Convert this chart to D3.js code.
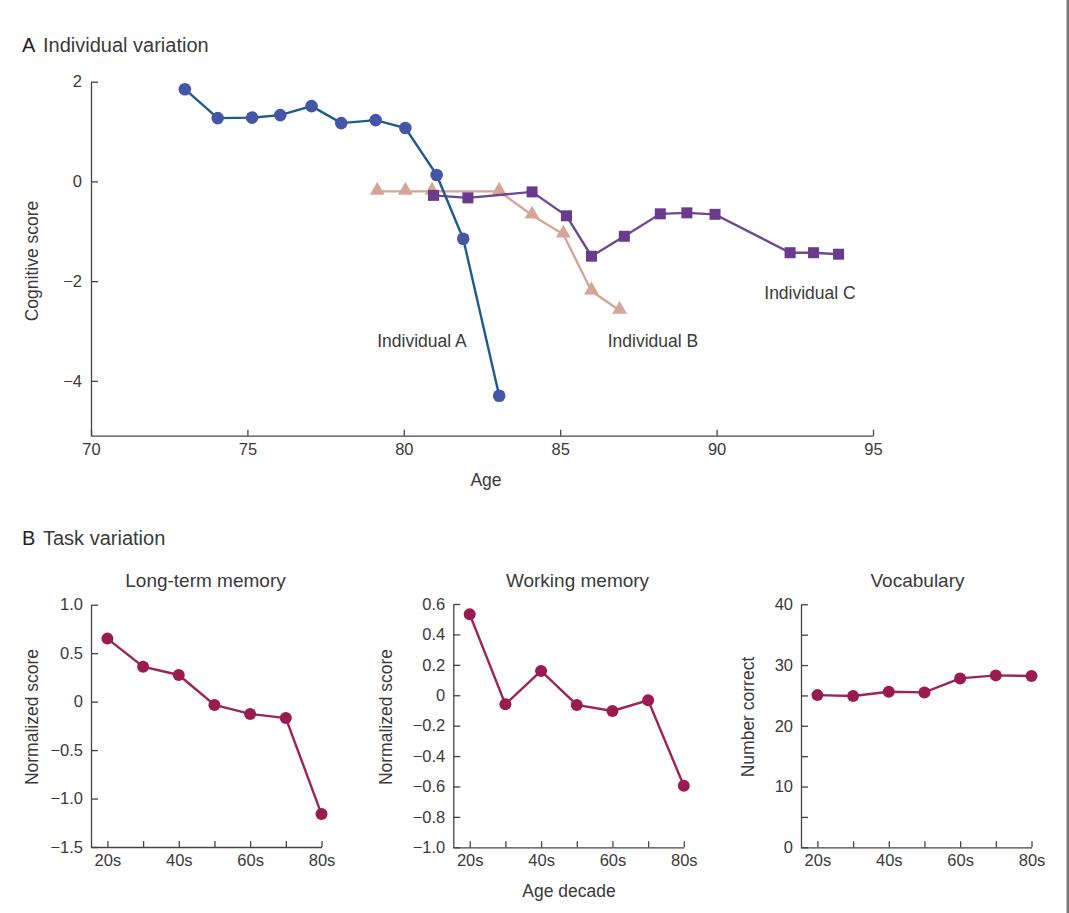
<!DOCTYPE html>
<html>
<head>
<meta charset="utf-8">
<script src="https://cdn.jsdelivr.net/npm/d3@7"></script>
<style>
  body { margin: 0; background: #fff; }
  svg { display: block; font-family: "Liberation Sans", Arial, sans-serif; }
  .axis path, .axis line { stroke: #444; stroke-width: 1.3; }
  .lbl { fill: #3a3a3a; font-size: 17.5px; }
  .ttl { fill: #3a3a3a; font-size: 20px; }
</style>
</head>
<body>
<svg id="fig" width="1069" height="913"></svg>
<script>
// panel A: individual trajectories (age, cognitive score)
var ageA = [73, 74.05, 75.15, 76.05, 77.05, 78, 79.1, 80.05, 81.05, 81.9, 83.05];
var scoreA = [1.85, 1.27, 1.28, 1.33, 1.51, 1.17, 1.23, 1.07, 0.13, -1.15, -4.3];
var ageB = [79.15, 80.05, 80.9, 83.05, 84.1, 85.1, 86.0, 86.9];
var scoreB = [-0.2, -0.2, -0.2, -0.2, -0.68, -1.06, -2.2, -2.59];
var ageC = [80.95, 82.05, 84.1, 85.2, 86.0, 87.05, 88.2, 89.05, 89.95, 92.35, 93.1, 93.9];
var scoreC = [-0.28, -0.33, -0.21, -0.69, -1.5, -1.1, -0.65, -0.63, -0.66, -1.43, -1.43, -1.46];
var ageTicks = [70, 75, 80, 85, 90, 95];
var scoreTicks = [2, 0, -2, -4];

// panel B: task variation by age decade
var decades = [20, 30, 40, 50, 60, 70, 80];
var decadeLabels = ["20s", "", "40s", "", "60s", "", "80s"];
var longTerm = [0.65, 0.36, 0.275, -0.035, -0.127, -0.17, -1.16];
var working = [0.533, -0.06, 0.16, -0.064, -0.103, -0.033, -0.595];
var vocab = [25.05, 24.9, 25.6, 25.5, 27.8, 28.3, 28.2];
var ltmTicks = [1.0, 0.5, 0, -0.5, -1.0, -1.5];
var wmTicks = [0.6, 0.4, 0.2, 0, -0.2, -0.4, -0.6, -0.8, -1.0];
var vocabTicks = [0, 5, 10, 15, 20, 25, 30, 35, 40];

var svg = d3.select("#fig");

// thin frame line at the right edge
svg.append("rect").attr("x", 1066.5).attr("y", 0).attr("width", 2.5).attr("height", 913).attr("fill", "#7a7a7a");

function minus(v) { return String(v).replace("-", "\u2212"); }

function styleTicks(g) {
  g.selectAll("text").attr("font-family", null).attr("font-size", null)
    .style("font-size", "16.5px").style("fill", "#3a3a3a");
}

// ---------- panel A ----------
svg.append("text").attr("x", 22).attr("y", 52).attr("class", "ttl").style("fill", "#222").text("A");
svg.append("text").attr("x", 43).attr("y", 52).attr("class", "ttl").text("Individual variation");

var x = d3.scaleLinear().domain([70, 95]).range([91, 873]);
var y = d3.scaleLinear().domain([-5.1, 2]).range([435.7, 81.7]);

svg.append("g").attr("class", "axis").attr("transform", "translate(0,435.7)")
  .call(d3.axisBottom(x).tickValues(ageTicks).tickSizeInner(-6).tickSizeOuter(0).tickPadding(8))
  .call(styleTicks);
svg.append("g").attr("class", "axis").attr("transform", "translate(91,0)")
  .call(d3.axisLeft(y).tickValues(scoreTicks).tickSizeInner(-7).tickSizeOuter(0).tickPadding(9).tickFormat(minus))
  .call(styleTicks);

var line = d3.line().x(d => x(d[0])).y(d => y(d[1]));

var serA = d3.zip(ageA, scoreA), serB = d3.zip(ageB, scoreB), serC = d3.zip(ageC, scoreC);

// Individual B (pink triangles)
svg.append("path").datum(serB).attr("d", line).attr("fill", "none")
  .attr("stroke", "#d6a597").attr("stroke-width", 2.4);
svg.selectAll(".tri").data(serB).enter().append("path").attr("class", "tri")
  .attr("d", d3.symbol().type(d3.symbolTriangle).size(95))
  .attr("transform", d => "translate(" + x(d[0]) + "," + (y(d[1]) - 1) + ")")
  .attr("fill", "#d6a597");

// Individual C (purple squares)
svg.append("path").datum(serC).attr("d", line).attr("fill", "none")
  .attr("stroke", "#6e4890").attr("stroke-width", 2.4);
svg.selectAll(".sq").data(serC).enter().append("rect").attr("class", "sq")
  .attr("x", d => x(d[0]) - 5.5).attr("y", d => y(d[1]) - 5.5)
  .attr("width", 11).attr("height", 11).attr("fill", "#6a3a8c");

// Individual A (blue circles)
svg.append("path").datum(serA).attr("d", line)
  .attr("fill", "none").attr("stroke", "#1d5a8e").attr("stroke-width", 2.4);
svg.selectAll(".dotA").data(serA).enter().append("circle").attr("class", "dotA")
  .attr("cx", d => x(d[0])).attr("cy", d => y(d[1])).attr("r", 6.3).attr("fill", "#4556a7");

svg.append("text").attr("class", "lbl").attr("text-anchor", "middle").attr("x", 422).attr("y", 347).text("Individual A");
svg.append("text").attr("class", "lbl").attr("text-anchor", "middle").attr("x", 653).attr("y", 347).text("Individual B");
svg.append("text").attr("class", "lbl").attr("text-anchor", "middle").attr("x", 810).attr("y", 299).text("Individual C");
svg.append("text").attr("class", "lbl").attr("text-anchor", "middle").attr("x", 486).attr("y", 486).text("Age");
svg.append("text").attr("class", "lbl").attr("text-anchor", "middle")
  .attr("transform", "translate(38,261) rotate(-90)").text("Cognitive score");

// ---------- panel B ----------
svg.append("text").attr("x", 22).attr("y", 545).attr("class", "ttl").style("fill", "#222").text("B");
svg.append("text").attr("x", 43).attr("y", 545).attr("class", "ttl").text("Task variation");

var panels = [
  { title: "Long-term memory", titleX: 205.5, values: longTerm, ticks: ltmTicks, domain: [-1.5, 1.0], left: 91,
    yLabel: "Normalized score", labelX: 38, top: 604.7, bottom: 847, fmt: d => minus(d === 0 ? "0" : d3.format(".1f")(d)) },
  { title: "Working memory", titleX: 577.5, values: working, ticks: wmTicks, domain: [-1.0, 0.6], left: 453.3,
    yLabel: "Normalized score", labelX: 392, top: 604, bottom: 847.3, fmt: d => minus(d === 0 ? "0" : d3.format(".1f")(d)) },
  { title: "Vocabulary", titleX: 917.5, values: vocab, ticks: vocabTicks, domain: [0, 40], left: 801,
    yLabel: "Number correct", labelX: 754, top: 604.3, bottom: 847.3, fmt: d => d % 10 === 0 ? String(d) : "" }
];

panels.forEach(function (p) {
  var px = d3.scaleLinear().domain([15.4, 80]).range([p.left, p.left + 230.5]);
  var py = d3.scaleLinear().domain(p.domain).range([p.bottom, p.top]);
  var g = svg.append("g");

  g.append("g").attr("class", "axis").attr("transform", "translate(0," + p.bottom + ")")
    .call(d3.axisBottom(px).tickValues(decades).tickSizeInner(-6).tickSizeOuter(0).tickPadding(7)
      .tickFormat((d, i) => decadeLabels[i]))
    .call(styleTicks);
  g.append("g").attr("class", "axis").attr("transform", "translate(" + p.left + ",0)")
    .call(d3.axisLeft(py).tickValues(p.ticks).tickSizeInner(-7).tickSizeOuter(0).tickPadding(8).tickFormat(p.fmt))
    .call(styleTicks);

  var pts = d3.zip(decades, p.values);
  g.append("path").datum(pts)
    .attr("d", d3.line().x(d => px(d[0])).y(d => py(d[1])))
    .attr("fill", "none").attr("stroke", "#9b2556").attr("stroke-width", 2.4);
  g.selectAll("circle").data(pts).enter().append("circle")
    .attr("cx", d => px(d[0])).attr("cy", d => py(d[1])).attr("r", 6).attr("fill", "#9a1b4f");

  g.append("text").attr("class", "ttl").attr("text-anchor", "middle")
    .attr("x", p.titleX).attr("y", 587).style("font-size", "19px").text(p.title);
  g.append("text").attr("class", "lbl").attr("text-anchor", "middle")
    .attr("transform", "translate(" + p.labelX + ",717) rotate(-90)").text(p.yLabel);
});

svg.append("text").attr("class", "lbl").attr("text-anchor", "middle").attr("x", 569).attr("y", 897).text("Age decade");
</script>
</body>
</html>
